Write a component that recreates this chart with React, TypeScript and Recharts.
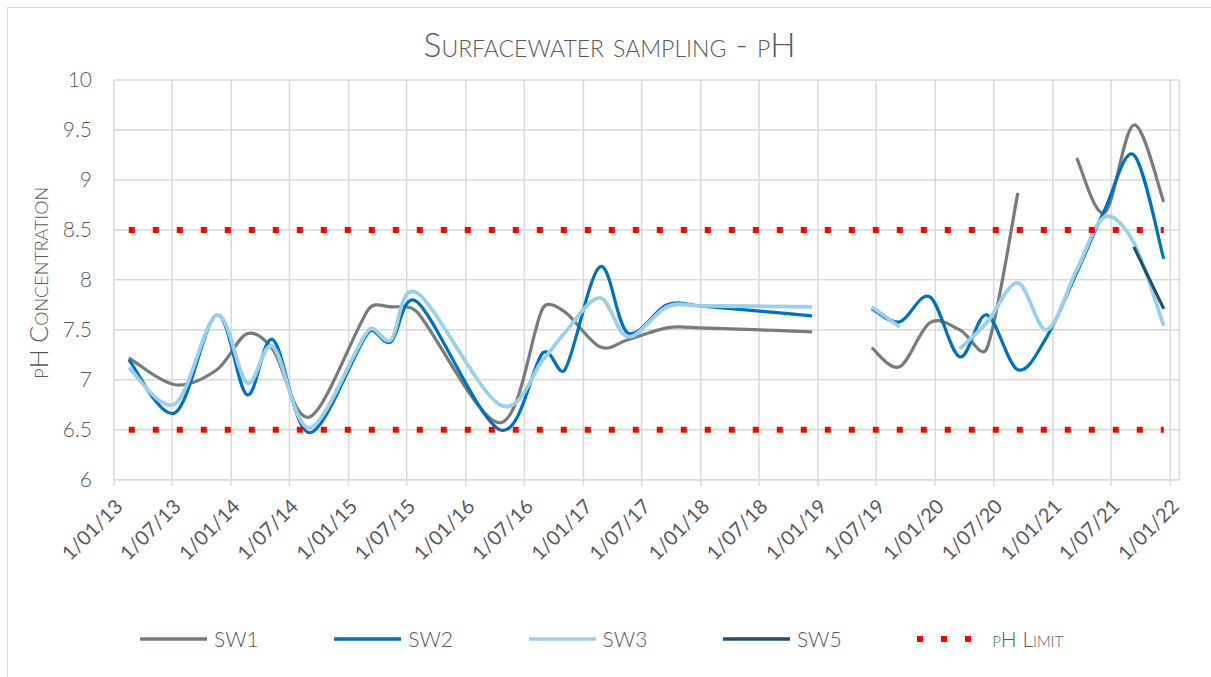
import React from 'react';
import { LineChart, Line, XAxis, YAxis, CartesianGrid, Legend } from 'recharts';

// sampling dates (one row per sampling round, the empty row makes the 2019 gap)
const sampleDates = [
  '2013-02-16', '2013-07-10', '2013-11-17', '2014-02-19', '2014-05-11', '2014-09-03',
  '2015-03-05', '2015-05-13', '2015-08-02', '2016-04-16', '2016-08-28', '2016-11-04',
  '2017-02-21', '2017-05-19', '2017-09-18', '2017-12-29', '2018-12-13', '2019-03-15',
  '2019-06-17', '2019-09-12', '2019-12-15', '2020-03-17', '2020-06-09', '2020-09-14',
  '2020-12-13', '2021-03-16', '2021-06-11', '2021-09-10', '2021-12-12',
];

const sw1 = [
  7.22, 6.95, 7.1, 7.46, 7.3, 6.63,
  7.71, 7.73, 7.68, 6.57, 7.72, 7.68,
  7.33, 7.4, 7.52, 7.52, 7.48, null,
  7.32, 7.13, 7.57, 7.5, 7.31, 8.87,
  null, 9.22, 8.67, 9.55, 8.78,
];
const sw2 = [
  7.2, 6.67, 7.65, 6.85, 7.4, 6.47,
  7.48, 7.38, 7.78, 6.5, 7.27, 7.1,
  8.13, 7.47, 7.75, 7.74, 7.64, null,
  7.71, 7.58, 7.83, 7.23, 7.65, 7.1,
  7.43, 8.07, 8.7, 9.25, 8.21,
];
const sw3 = [
  7.12, 6.76, 7.65, 6.97, 7.33, 6.52,
  7.5, 7.4, 7.87, 6.75, 7.2, 7.47,
  7.82, 7.43, 7.73, 7.74, 7.73, null,
  7.73, 7.53, null, 7.31, 7.57, 7.97,
  7.5, 8.1, 8.63, 8.37, 7.54,
];
const sw5 = [
  null, null, null, null, null, null,
  null, null, null, null, null, null,
  null, null, null, null, null, null,
  null, null, null, null, null, null,
  null, null, null, 8.33, 7.71,
];
const phLimitHigh = 8.5;
const phLimitLow = 6.5;

const tickDates = [
  '2013-01-01', '2013-07-01', '2014-01-01', '2014-07-01', '2015-01-01', '2015-07-01',
  '2016-01-01', '2016-07-01', '2017-01-01', '2017-07-01', '2018-01-01', '2018-07-01',
  '2019-01-01', '2019-07-01', '2020-01-01', '2020-07-01', '2021-01-01', '2021-07-01',
  '2022-01-01',
];
const axisEnd = '2022-01-30';
const yTicks = [6, 6.5, 7, 7.5, 8, 8.5, 9, 9.5, 10];

const seriesNames = ['SW1', 'SW2', 'SW3', 'SW5'];
const limitName = 'pH Limit';
const colors = ['#767c7c', '#0070c0', '#9ccfe8', '#1f4e6b'];
const limitColor = '#ff0000';

const FONT = 'Lato, "Open Sans", sans-serif';
const TEXT = '#595959';
const GRID = '#d9d9d9';

const toTime = (s: string) => {
  const [y, m, d] = s.split('-').map(Number);
  return Date.UTC(y, m - 1, d);
};

const fmtTick = (t: number) => {
  const d = new Date(t);
  const mm = String(d.getUTCMonth() + 1).padStart(2, '0');
  const yy = String(d.getUTCFullYear() % 100).padStart(2, '0');
  return `${d.getUTCDate()}/${mm}/${yy}`;
};

const data = sampleDates.map((d, i) => ({
  t: toTime(d),
  sw1: sw1[i],
  sw2: sw2[i],
  sw3: sw3[i],
  sw5: sw5[i],
  limHi: phLimitHigh,
  limLo: phLimitLow,
}));

// Excel style smoothed line: catmull-rom tangents, shortened next to short segments
const excelSmooth = (context: any) => {
  let pts: number[][] = [];
  const limit = (v: number[], len: number) => {
    const l = Math.hypot(v[0], v[1]);
    const max = 0.4 * len;
    return l > max && l > 0 ? [(v[0] * max) / l, (v[1] * max) / l] : v;
  };
  return {
    areaStart() {},
    areaEnd() {},
    lineStart() {
      pts = [];
    },
    point(x: number, y: number) {
      pts.push([+x, +y]);
    },
    lineEnd() {
      const n = pts.length;
      if (!n) return;
      context.moveTo(pts[0][0], pts[0][1]);
      for (let i = 0; i < n - 1; i++) {
        const p0 = pts[i > 0 ? i - 1 : i];
        const p1 = pts[i];
        const p2 = pts[i + 1];
        const p3 = pts[i + 2 < n ? i + 2 : i + 1];
        const seg = Math.hypot(p2[0] - p1[0], p2[1] - p1[1]);
        const t1 = limit([(p2[0] - p0[0]) / 6, (p2[1] - p0[1]) / 6], seg);
        const t2 = limit([(p3[0] - p1[0]) / 6, (p3[1] - p1[1]) / 6], seg);
        context.bezierCurveTo(p1[0] + t1[0], p1[1] + t1[1], p2[0] - t2[0], p2[1] - t2[1], p2[0], p2[1]);
      }
    },
  };
};

const YTitle = ({ viewBox }: any) => {
  const x = viewBox.x + 40;
  const y = viewBox.y + viewBox.height / 2 + 3;
  return (
    <text
      x={x}
      y={y}
      transform={`rotate(-90 ${x} ${y})`}
      textAnchor="middle"
      fill={TEXT}
      style={{ fontFamily: FONT, fontSize: 25, fontVariant: 'small-caps', fontWeight: 300 }}
    >
      pH Concentration
    </text>
  );
};

const LegendBox = () => (
  <div style={{ position: 'relative', height: 24, fontFamily: FONT, fontWeight: 300 }}>
    {[...seriesNames, limitName].map((name, i) => {
      const isLimit = i === seriesNames.length;
      return (
        <div
          key={name}
          style={{
            position: 'absolute',
            left: 132 + i * 194.3,
            top: 0,
            height: 24,
            display: 'flex',
            alignItems: 'center',
          }}
        >
          <svg width={isLimit ? 57 : 67} height={10} style={{ marginRight: isLimit ? 18 : 7 }}>
            {isLimit ? (
              <line x1={0} y1={5} x2={57} y2={5} stroke={limitColor} strokeWidth={6} strokeDasharray="6 18" />
            ) : (
              <line x1={0} y1={5} x2={67} y2={5} stroke={colors[i]} strokeWidth={3.5} />
            )}
          </svg>
          <span style={{ fontSize: 21, color: TEXT, fontVariant: isLimit ? 'small-caps' : 'normal', lineHeight: '24px' }}>
            {name}
          </span>
        </div>
      );
    })}
  </div>
);

export default function App() {
  const dataKeys = ['sw1', 'sw2', 'sw3', 'sw5'];
  return (
    <div
      style={{
        position: 'fixed',
        left: 7,
        top: 7,
        width: 1204,
        height: 670,
        overflow: 'hidden',
        background: '#fff',
      }}
    >
      <div
        style={{
          position: 'absolute',
          left: 0,
          top: 0,
          width: 1300,
          height: 800,
          border: `1px solid ${GRID}`,
          boxSizing: 'border-box',
        }}
      />
      <div style={{ position: 'absolute', left: 1, top: 1 }}>
        <LineChart width={1203} height={669} data={data} margin={{ top: 72, right: 31.5, left: 0, bottom: 77.3 }}>
          <CartesianGrid stroke={GRID} strokeWidth={1.5} />
          <XAxis
            dataKey="t"
            type="number"
            domain={[toTime(tickDates[0]), toTime(axisEnd)]}
            ticks={tickDates.map(toTime)}
            tickFormatter={fmtTick}
            interval={0}
            height={120}
            stroke={GRID}
            strokeWidth={1.5}
            tickSize={6}
            tickMargin={12}
            tick={{ angle: -45, textAnchor: 'end', fill: TEXT, fontSize: 20, fontFamily: FONT }}
          />
          <YAxis
            domain={[6, 10]}
            ticks={yTicks}
            width={106}
            axisLine={false}
            tickLine={false}
            tickSize={0}
            tickMargin={22}
            tick={{ fill: TEXT, fontSize: 21, fontFamily: FONT, fontWeight: 300 }}
            label={<YTitle />}
          />
          {dataKeys.map((k, i) => (
            <Line
              key={k}
              dataKey={k}
              name={seriesNames[i]}
              type={excelSmooth as any}
              stroke={colors[i]}
              strokeWidth={i === 2 ? 3.8 : 3.2}
              dot={false}
              activeDot={false}
              isAnimationActive={false}
            />
          ))}
          <Line
            dataKey="limHi"
            name={limitName}
            type="linear"
            stroke={limitColor}
            strokeWidth={6}
            strokeDasharray="6 18"
            dot={false}
            activeDot={false}
            connectNulls
            isAnimationActive={false}
          />
          <Line
            dataKey="limLo"
            name={limitName}
            type="linear"
            stroke={limitColor}
            strokeWidth={6}
            strokeDasharray="6 18"
            dot={false}
            activeDot={false}
            connectNulls
            legendType="none"
            isAnimationActive={false}
          />
          <Legend
            layout="horizontal"
            verticalAlign="middle"
            align="center"
            content={<LegendBox />}
            wrapperStyle={{ left: 0, top: 619, width: 1203 }}
          />
        </LineChart>
        <svg width={1203} height={669} style={{ position: 'absolute', left: 0, top: 0, pointerEvents: 'none' }}>
          <text
            x={601.5}
            y={49}
            textAnchor="middle"
            fill={TEXT}
            style={{ fontFamily: FONT, fontSize: 33.5, fontVariant: 'small-caps', fontWeight: 300 }}
          >
            Surfacewater sampling - pH
          </text>
        </svg>
      </div>
    </div>
  );
}
